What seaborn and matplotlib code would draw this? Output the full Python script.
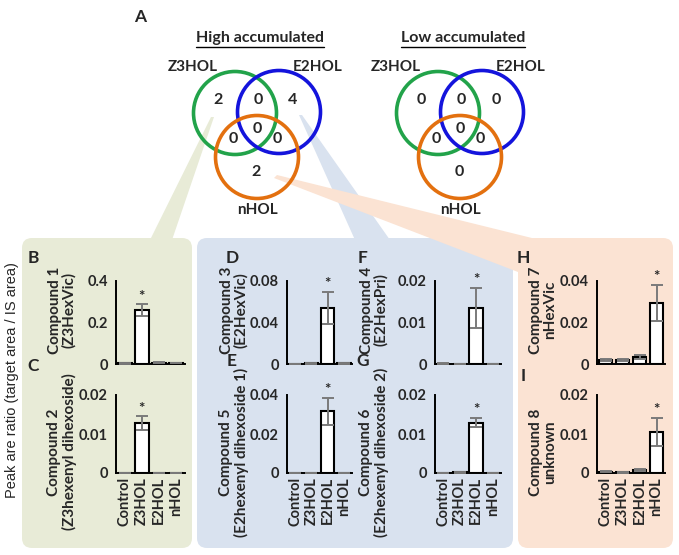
import matplotlib
matplotlib.use("Agg")
import matplotlib.pyplot as plt
import seaborn as sns
import pandas as pd
from matplotlib.patches import Circle, FancyBboxPatch, Polygon
from matplotlib.ticker import MultipleLocator, FuncFormatter

# données
categories = ["Control", "Z3HOL", "E2HOL", "nHOL"]

comp1 = [0.003, 0.26, 0.007, 0.004]
comp1_sd = [0.001, 0.027, 0.002, 0.001]
comp2 = [0.0, 0.0127, 0.0, 0.0]
comp2_sd = [0.0, 0.0018, 0.0, 0.0]
comp3 = [0.0, 0.0005, 0.054, 0.0005]
comp3_sd = [0.0, 0.0002, 0.0155, 0.0002]
comp5 = [0.0, 0.0, 0.0316, 0.0]
comp5_sd = [0.0, 0.0, 0.0068, 0.0]
comp4 = [0.0001, 0.0, 0.0135, 0.0]
comp4_sd = [0.00005, 0.0, 0.0049, 0.0]
comp6 = [0.0, 0.0002, 0.0129, 0.0]
comp6_sd = [0.0, 0.0001, 0.0012, 0.0]
comp7 = [0.0020, 0.0019, 0.0035, 0.0294]
comp7_sd = [0.0006, 0.0004, 0.0010, 0.0087]
comp8 = [0.0003, 0.0002, 0.0008, 0.0106]
comp8_sd = [0.0001, 0.0001, 0.0002, 0.0036]

venn_high = ["2", "0", "4", "0", "0", "0", "2"]
venn_low = ["0", "0", "0", "0", "0", "0", "0"]

W, H = 679, 555
sns.set_style("white")
plt.rcParams['font.family'] = ['Lato', 'DejaVu Sans']

fig = plt.figure(figsize=(W / 100, H / 100), dpi=100)
bg = fig.add_axes([0, 0, 1, 1])
bg.set_xlim(0, W)
bg.set_ylim(H, 0)
bg.axis('off')

green_bg = '#e8ebd7'
blue_bg = '#d9e2ef'
orange_bg = '#fbe3d3'

# panneaux de fond + triangles
bg.add_patch(FancyBboxPatch((22, 238), 170, 310, boxstyle="round,pad=0,rounding_size=10",
                            fc=green_bg, ec='none', zorder=1))
bg.add_patch(FancyBboxPatch((197, 238), 316, 310, boxstyle="round,pad=0,rounding_size=10",
                            fc=blue_bg, ec='none', zorder=1))
bg.add_patch(Polygon([(211, 117), (214, 117), (172, 240), (150, 240)], fc=green_bg, ec='none', zorder=1))
bg.add_patch(Polygon([(299, 115), (302, 115), (390, 240), (355, 240)], fc=blue_bg, ec='none', zorder=1))
bg.add_patch(Polygon([(274, 178), (277, 175), (540, 240), (518, 272)], fc=orange_bg, ec='none', zorder=2))
bg.add_patch(FancyBboxPatch((518, 238), 155, 310, boxstyle="round,pad=0,rounding_size=10",
                            fc=orange_bg, ec='none', zorder=2))

bg.text(140, 17, "A", fontsize=12.5, fontweight='bold', ha='center', va='center', zorder=5)


def venn(cx, title, counts):
    t = bg.text(cx + 3, 38, title, fontsize=11.5, fontweight='bold', ha='center', va='center', zorder=5)
    fig.canvas.draw()
    bb = t.get_window_extent().transformed(bg.transData.inverted())
    bg.plot([bb.x0, bb.x1], [47, 47], color='black', lw=1, zorder=5)
    centres = [(cx - 22, 113, '#22a34a'), (cx + 22, 112, '#1414dc'), (cx, 157, '#e3700f')]
    for x, y, c in centres:
        bg.add_patch(Circle((x, y), 41.5, fill=False, ec=c, lw=2.6, zorder=4))
    bg.text(cx - 64, 67, "Z3HOL", fontsize=11, fontweight='bold', ha='center', va='center', zorder=5)
    bg.text(cx + 61, 67, "E2HOL", fontsize=11, fontweight='bold', ha='center', va='center', zorder=5)
    bg.text(cx, 210, "nHOL", fontsize=11, fontweight='bold', ha='center', va='center', zorder=5)
    spots = [(-39, 100), (1, 100), (36, 100), (0, 129), (-24, 139), (20, 139), (-1, 172)]
    for (dx, y), n in zip(spots, counts):
        bg.text(cx + dx, y, n, fontsize=11.5, fontweight='bold', ha='center', va='center', zorder=5)


venn(257, "High accumulated", venn_high)
venn(460, "Low accumulated", venn_low)


def add_ax(x0, x1, ytop, ybot):
    return fig.add_axes([x0 / W, 1 - ybot / H, (x1 - x0) / W, (ybot - ytop) / H], facecolor='none', zorder=6)


def draw_bars(ax, vals, sds, ymax, major, star, show_x):
    df = pd.DataFrame({"group": categories, "value": vals})
    sns.barplot(data=df, x="group", y="value", ax=ax, color="white", saturation=1,
                edgecolor="black", linewidth=1.5, width=0.82, errorbar=None)
    ax.errorbar(range(4), vals, yerr=sds, fmt="none", ecolor="#7a7a7a",
                elinewidth=1.4, capsize=4, capthick=1.4, zorder=5)
    ax.text(star, vals[star] + sds[star] + ymax * 0.01, "*", ha='center', va='bottom',
            fontsize=11, fontweight='bold')
    ax.set_xlim(-0.5, 3.5)
    ax.set_ylim(0, ymax)
    ax.yaxis.set_major_locator(MultipleLocator(major))
    ax.yaxis.set_minor_locator(MultipleLocator(major / 2))
    ax.yaxis.set_major_formatter(FuncFormatter(lambda v, p: '%g' % round(v, 6)))
    ax.set_xticks([-0.5, 0.5, 1.5, 2.5, 3.5])
    ax.set_xticklabels([])
    ax.set_xticks(range(4), minor=True)
    ax.set_xticklabels(categories if show_x else [], minor=True, rotation=90,
                       fontsize=10.5, fontweight='bold')
    ax.tick_params(axis='x', which='minor', length=0, pad=3)
    ax.tick_params(axis='x', which='major', direction='out', length=4, width=1.3)
    ax.tick_params(axis='y', which='both', direction='out', length=4, width=1.3,
                   labelsize=10.5, pad=2)
    for lab in ax.get_yticklabels():
        lab.set_fontweight('bold')
    ax.set_xlabel('')
    ax.set_ylabel('')
    sns.despine(ax=ax)
    for s in ['left', 'bottom']:
        ax.spines[s].set_linewidth(1.4)
        ax.spines[s].set_color('black')


top, bot = (281, 364), (395, 473)
cols = [(116, 185), (287, 352), (435, 501), (597, 665)]
label_y = {top: 310, bot: 452}

specs = [
    (cols[0], top, comp1, comp1_sd, 0.4, 0.2, 1, False, "B", "Compound 1\n(Z3HexVic)", 62),
    (cols[0], bot, comp2, comp2_sd, 0.02, 0.01, 1, True, "C", "Compound 2\n(Z3hexenyl dihexoside)", 62),
    (cols[1], top, comp3, comp3_sd, 0.08, 0.04, 2, False, "D", "Compound 3\n(E2HexVic)", 234),
    (cols[1], bot, comp5, comp5_sd, 0.04, 0.02, 2, True, "E", "Compound 5\n(E2hexenyl dihexoside 1)", 234),
    (cols[2], top, comp4, comp4_sd, 0.02, 0.01, 2, False, "F", "Compound 4\n(E2HexPri)", 374),
    (cols[2], bot, comp6, comp6_sd, 0.02, 0.01, 2, True, "G", "Compound 6\n(E2hexenyl dihexoside 2)", 374),
    (cols[3], top, comp7, comp7_sd, 0.04, 0.02, 3, False, "H", "Compound 7\nnHexVic", 543),
    (cols[3], bot, comp8, comp8_sd, 0.02, 0.01, 3, True, "I", "Compound 8\nunknown", 543),
]

letter_x = {"B": 33, "C": 33, "D": 232, "E": 232, "F": 363, "G": 363, "H": 523, "I": 523}
letter_y = {"B": 258, "C": 366, "D": 258, "E": 361, "F": 258, "G": 361, "H": 258, "I": 376}

for (x0, x1), (yt, yb), vals, sds, ymax, major, star, show_x, letter, label, lx in specs:
    ax = add_ax(x0, x1, yt, yb)
    draw_bars(ax, vals, sds, ymax, major, star, show_x)
    bg.text(letter_x[letter], letter_y[letter], letter, fontsize=12.5, fontweight='bold',
            ha='center', va='center', zorder=5)
    bg.text(lx, label_y[(yt, yb)], label, rotation=90, fontsize=11, fontweight='bold',
            ha='center', va='center', linespacing=1.0, zorder=5)

bg.text(12, 380, "Peak are ratio (target area / IS area)", rotation=90, fontsize=10.5,
        family=['Liberation Sans', 'DejaVu Sans'], ha='center', va='center', zorder=5)

plt.savefig('out.png', dpi=100)
